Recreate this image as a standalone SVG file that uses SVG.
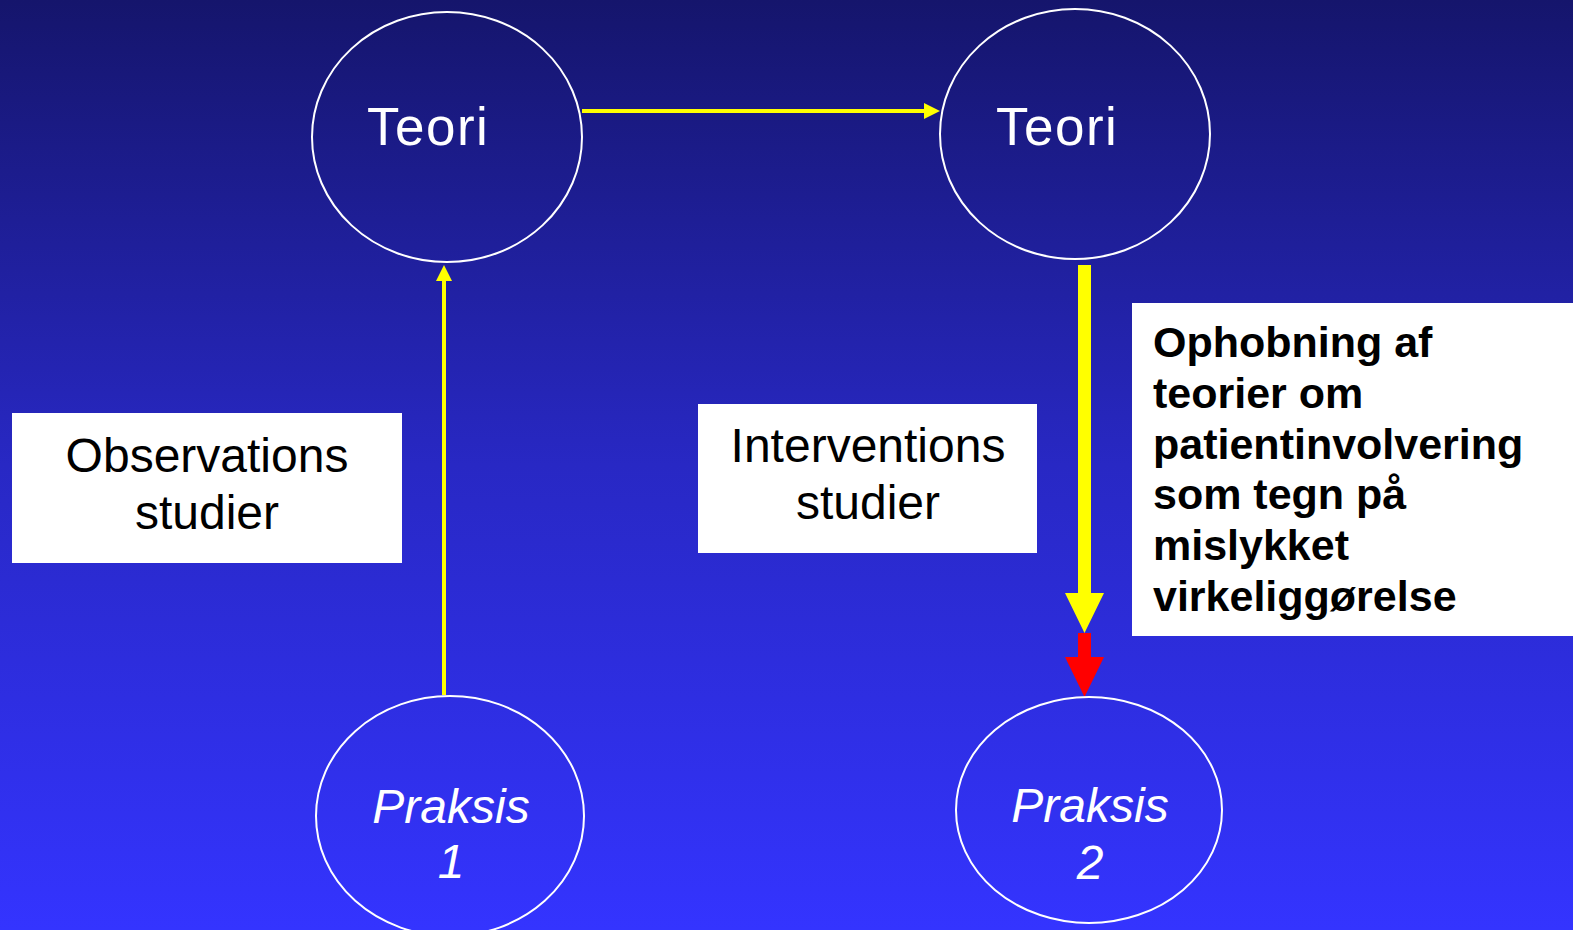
<svg xmlns="http://www.w3.org/2000/svg" width="1573" height="930" viewBox="0 0 1573 930">
  <defs>
    <linearGradient id="bg" x1="0" y1="0" x2="0" y2="1">
      <stop offset="0" stop-color="#15156c"/>
      <stop offset="0.5" stop-color="#2828c4"/>
      <stop offset="1" stop-color="#3434ff"/>
    </linearGradient>
    <style>
      .ring { fill: none; stroke: #ffffff; stroke-width: 2; }
      .label { fill: #ffffff; font-family: "Liberation Sans", Arial, sans-serif; }
      .box { fill: #ffffff; }
      .boxtext { fill: #000000; font-family: "Liberation Sans", Arial, sans-serif; font-size: 48px; text-anchor: middle; }
      .note { fill: #000000; font-family: "Liberation Sans", Arial, sans-serif; font-size: 43px; font-weight: bold; }
      .thin { stroke: #ffff00; stroke-width: 4; fill: none; }
    </style>
  </defs>

  <rect x="0" y="0" width="1573" height="930" fill="url(#bg)"/>

  <!-- connectors -->
  <g id="connectors">
    <!-- Teori -> Teori -->
    <line class="thin" x1="582" y1="111" x2="926" y2="111"/>
    <polygon points="924,103 940,111 924,119" fill="#ffff00"/>
    <!-- Praksis 1 -> Teori -->
    <line class="thin" x1="444" y1="695" x2="444" y2="279"/>
    <polygon points="436,281 444,265 452,281" fill="#ffff00"/>
    <!-- Teori -> Praksis 2 (block arrows) -->
    <polygon points="1078,265 1091,265 1091,593 1104,593 1084.5,633 1065,593 1078,593" fill="#ffff00"/>
    <polygon points="1078,633 1091,633 1091,657 1104,657 1084.5,697 1065,657 1078,657" fill="#ff0000"/>
  </g>

  <g id="teori-1">
    <ellipse class="ring" cx="447" cy="137" rx="135" ry="125"/>
    <text class="label" x="367" y="145" font-size="53" letter-spacing="1.5">Teori</text>
  </g>

  <g id="teori-2">
    <ellipse class="ring" cx="1075" cy="134" rx="135" ry="125"/>
    <text class="label" x="996" y="145" font-size="53" letter-spacing="1.5">Teori</text>
  </g>

  <g id="praksis-1">
    <ellipse class="ring" cx="450" cy="816" rx="134" ry="120"/>
    <text class="label" x="451" y="823" font-size="48" font-style="italic" text-anchor="middle">Praksis</text>
    <text class="label" x="451" y="878" font-size="48" font-style="italic" text-anchor="middle">1</text>
  </g>

  <g id="praksis-2">
    <ellipse class="ring" cx="1089" cy="810" rx="133" ry="113"/>
    <text class="label" x="1090" y="822" font-size="48" font-style="italic" text-anchor="middle">Praksis</text>
    <text class="label" x="1090" y="879" font-size="48" font-style="italic" text-anchor="middle">2</text>
  </g>

  <g id="observations">
    <rect class="box" x="12" y="413" width="390" height="150"/>
    <text class="boxtext" x="207" y="472">Observations</text>
    <text class="boxtext" x="207" y="529">studier</text>
  </g>

  <g id="interventions">
    <rect class="box" x="698" y="404" width="339" height="149"/>
    <text class="boxtext" x="868" y="462">Interventions</text>
    <text class="boxtext" x="868" y="519">studier</text>
  </g>

  <g id="ophobning">
    <rect class="box" x="1132" y="303" width="441" height="333"/>
    <text class="note" x="1153">
      <tspan x="1153" y="357">Ophobning af</tspan>
      <tspan x="1153" y="408">teorier om</tspan>
      <tspan x="1153" y="459">patientinvolvering</tspan>
      <tspan x="1153" y="509">som tegn på</tspan>
      <tspan x="1153" y="560">mislykket</tspan>
      <tspan x="1153" y="611">virkeliggørelse</tspan>
    </text>
  </g>
</svg>
